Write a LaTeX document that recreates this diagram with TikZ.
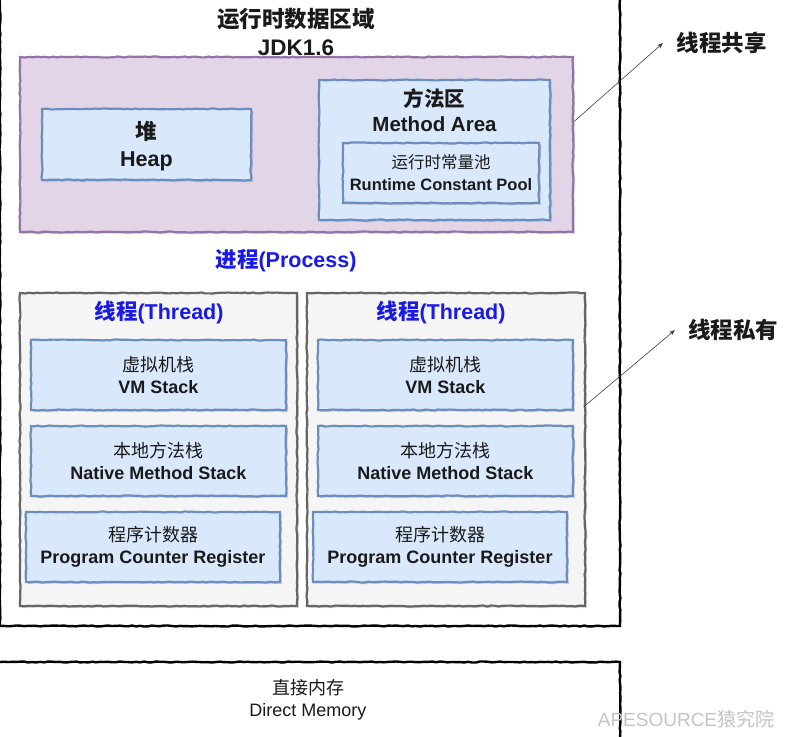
\documentclass[tikz,border=0pt]{standalone}
\usepackage{fontspec}
\setmainfont{Liberation Sans}
\newfontfamily\cjk{Noto Sans CJK SC}
\usetikzlibrary{decorations.pathmorphing,arrows.meta,shadows}
\definecolor{sharefill}{HTML}{E1D5E7}
\definecolor{shareline}{HTML}{9673A6}
\definecolor{bluefill}{HTML}{DAE8FC}
\definecolor{blueline}{HTML}{6C8EBF}
\definecolor{grayfill}{HTML}{F5F5F5}
\definecolor{grayline}{HTML}{666666}
\definecolor{titleblue}{HTML}{1A1AE6}
\definecolor{inktext}{HTML}{1A1A1A}
\definecolor{wmark}{HTML}{C4C4C4}
\newcommand{\zh}[1]{{\cjk #1}}
\tikzset{
  wobble/.style={decorate, decoration={random steps, segment length=4pt, amplitude=0.5pt}},
  boxbase/.style={wobble, rectangle, inner sep=0pt, line width=2.2pt},
  sharedbox/.style={boxbase, draw=shareline, fill=sharefill,
    drop shadow={shadow xshift=1.8pt, shadow yshift=-1.8pt, opacity=0.3, fill=gray}},
  bluebox/.style={boxbase, draw=blueline, fill=bluefill,
    drop shadow={shadow xshift=1.8pt, shadow yshift=-1.8pt, opacity=0.3, fill=gray}},
  threadbox/.style={boxbase, draw=grayline, fill=grayfill,
    drop shadow={shadow xshift=1.8pt, shadow yshift=-1.8pt, opacity=0.3, fill=gray}},
  outerbox/.style={boxbase, draw=black, line width=2.4pt},
  bigtext/.style={text=inktext, align=center, font=\bfseries\fontsize{21}{26}\selectfont},
  midtext/.style={text=inktext, align=center, font=\bfseries\fontsize{18}{22}\selectfont},
  plaintext/.style={text=inktext, align=center, font=\fontsize{18}{22}\selectfont},
  bluetitle/.style={text=titleblue, font=\bfseries\fontsize{21.5}{24}\selectfont},
  sidelabel/.style={text=inktext, font=\bfseries\fontsize{22.5}{24}\selectfont},
  pointer/.style={draw=black!75, line width=0.6pt, -{Stealth[length=6pt,width=4.5pt]}},
}
\begin{document}
\begin{tikzpicture}[x=1pt,y=-1pt]
\pgfmathsetseed{7}
\path[use as bounding box] (0,0) rectangle (789,736);
\clip (0,0) rectangle (789,736);
\fill[white] (0,0) rectangle (789,736);

% outer runtime data area
\node[outerbox, minimum width=620pt, minimum height=640pt] (outer) at (310,306) {};
\node[bigtext, font=\bfseries\fontsize{22.5}{28}\selectfont] (title) at (296,32) {\zh{运行时数据区域}\\JDK1.6};

% shared area
\node[sharedbox, minimum width=553pt, minimum height=175pt] (shared) at (296.5,144.5) {};
\node[bluebox, minimum width=209pt, minimum height=71pt] (heap) at (146.5,144.5) {};
\node[bigtext, font=\bfseries\fontsize{21.5}{27}\selectfont] (heaptxt) at (146.5,146) {\zh{堆}\\Heap};
\node[bluebox, minimum width=231pt, minimum height=140pt] (method) at (434.5,150) {};
\node[bigtext, font=\bfseries\fontsize{20.5}{25}\selectfont] (methodtxt) at (434.5,110) {\zh{方法区}\\Method Area};
\node[bluebox, minimum width=196pt, minimum height=60pt] (pool) at (441,173) {};
\node[midtext, font=\bfseries\fontsize{16.5}{22}\selectfont] (pooltxt) at (pool) {\zh{\mdseries 运行时常量池}\\Runtime Constant Pool};

% process
\node[bluetitle] (process) at (286,261) {\zh{进程}(Process)};

% left thread
\node[threadbox, minimum width=277pt, minimum height=313pt] (threadL) at (158.5,449.5) {};
\node[bluetitle] (threadLt) at (159,312) {\zh{线程}(Thread)};
\node[bluebox, minimum width=255pt, minimum height=70pt] (vmL) at (158.5,375) {};
\node[midtext] (vmLt) at (vmL) {\zh{\mdseries 虚拟机栈}\\VM Stack};
\node[bluebox, minimum width=255pt, minimum height=70pt] (natL) at (158.5,461) {};
\node[midtext] (natLt) at (natL) {\zh{\mdseries 本地方法栈}\\Native Method Stack};
\node[bluebox, minimum width=254pt, minimum height=70pt] (pcL) at (153,547) {};
\node[midtext] (pcLt) at (pcL) {\zh{\mdseries 程序计数器}\\Program Counter Register};

% right thread
\node[threadbox, minimum width=278pt, minimum height=313pt] (threadR) at (446,449.5) {};
\node[bluetitle] (threadRt) at (441,312) {\zh{线程}(Thread)};
\node[bluebox, minimum width=255pt, minimum height=70pt] (vmR) at (445.5,375) {};
\node[midtext] (vmRt) at (vmR) {\zh{\mdseries 虚拟机栈}\\VM Stack};
\node[bluebox, minimum width=255pt, minimum height=70pt] (natR) at (445.5,461) {};
\node[midtext] (natRt) at (natR) {\zh{\mdseries 本地方法栈}\\Native Method Stack};
\node[bluebox, minimum width=254pt, minimum height=70pt] (pcR) at (440,547) {};
\node[midtext] (pcRt) at (pcR) {\zh{\mdseries 程序计数器}\\Program Counter Register};

% side labels and pointers
\node[sidelabel] (sharedlbl) at (721.5,43) {\zh{线程共享}};
\node[sidelabel] (privlbl) at (733,330) {\zh{线程私有}};
\coordinate (sharedtip) at (663,43);
\coordinate (privtip) at (675,330);
\draw[pointer] ([yshift=23pt]shared.east) -- (sharedtip);
\draw[pointer] ([xshift=-2pt,yshift=43pt]threadR.east) -- (privtip);

% direct memory
\node[outerbox, minimum width=640pt, minimum height=110pt] (direct) at (300,717) {};
\node[plaintext] (directtxt) at (308,700) {\zh{直接内存}\\Direct Memory};

% watermark
\node[text=wmark, font=\fontsize{19}{22}\selectfont] (wm) at (686,719) {APESOURCE\zh{猿究院}};
\end{tikzpicture}
\end{document}
